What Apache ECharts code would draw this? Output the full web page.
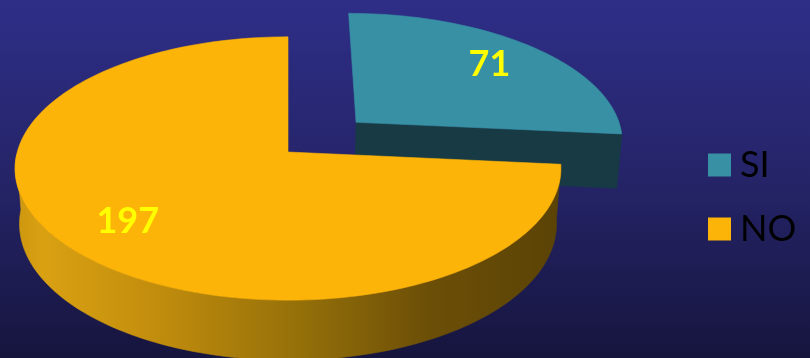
<!DOCTYPE html>
<html>
<head>
<meta charset="utf-8">
<title>SI / NO</title>
<script src="https://cdn.jsdelivr.net/npm/echarts@6/dist/echarts.min.js"></script>
<style>
  html, body { margin: 0; padding: 0; }
  #chart { width: 810px; height: 358px; }
</style>
</head>
<body>
<div id="chart"></div>
<script>
// Answers and counts
const categories = ['SI', 'NO'];
const values = [71, 197];

// Slice appearance
const topColors = ['#3890a4', '#fdb408'];
const explodeBy = { SI: 0.35 };

// Tilted-disc camera: centre on screen, focal length, distance, pitch, disc thickness
const VIEW = {
  cx: 288, cy: 152, f: 1895, D: 7.0,
  alpha: 28.6 * Math.PI / 180, thick: 0.235, labelR: 0.75
};

const total = values.reduce((a, b) => a + b, 0);
const starts = values.map((v, i) => values.slice(0, i).reduce((a, b) => a + b, 0));

const sa = Math.sin(VIEW.alpha), ca = Math.cos(VIEW.alpha);
const viewDir = [0, sa, ca]; // (X, H, Z), pointing toward the viewer

// Perspective projection of a disc point (X right, Z toward viewer, H up)
function project(X, Z, H) {
  const yc = H * ca - Z * sa;
  const zc = VIEW.D - H * sa - Z * ca;
  return [VIEW.cx + VIEW.f * X / zc, VIEW.cy - VIEW.f * yc / zc];
}
// angle measured clockwise from the back of the disc
function dir(t) { return [Math.sin(t), -Math.cos(t)]; }
function facing(n) {
  return n[0] * viewDir[0] + n[1] * viewDir[1] + n[2] * viewDir[2] > 1e-6;
}

const sideGradient = new echarts.graphic.LinearGradient(15, 0, 560, 0, [
  { offset: 0, color: '#cc9610' },
  { offset: 0.05, color: '#d9a112' },
  { offset: 0.25, color: '#c38e0d' },
  { offset: 0.52, color: '#957009' },
  { offset: 0.76, color: '#6c4f07' },
  { offset: 1, color: '#5b4306' }
], true);
const wallColors = ['#173a44', sideGradient];

function renderSlice(idx) {
  return function (params, api) {
    const value = api.value(0), start = api.value(1), sum = api.value(2);
    const t1 = start / sum * Math.PI * 2;
    const t2 = (start + value) / sum * Math.PI * 2;
    const tm = (t1 + t2) / 2;
    const ex = explodeBy[categories[idx]] || 0;
    const ox = dir(tm)[0] * ex, oz = dir(tm)[1] * ex;
    const T = VIEW.thick;
    const pt = (t, r, H) => { const d = dir(t); return project(ox + d[0] * r, oz + d[1] * r, H); };

    const children = [];
    const wallFill = wallColors[idx];

    // radial walls
    [[t1, -1], [t2, 1]].forEach(([t, s]) => {
      if (facing([s * Math.cos(t), 0, s * Math.sin(t)])) {
        children.push({
          type: 'polygon',
          shape: { points: [pt(t, 0, 0), pt(t, 1, 0), pt(t, 1, -T), pt(t, 0, -T)] },
          style: { fill: wallFill, stroke: wallFill, lineWidth: 0.6 }
        });
      }
    });

    // outer curved wall, front-facing runs only
    const steps = Math.max(8, Math.ceil((t2 - t1) / (Math.PI * 2) * 240));
    let run = [];
    const flush = () => {
      if (run.length > 1) {
        const topArc = run.map(t => pt(t, 1, 0));
        const botArc = run.map(t => pt(t, 1, -T)).reverse();
        children.push({
          type: 'polygon',
          shape: { points: topArc.concat(botArc) },
          style: { fill: wallFill, stroke: wallFill, lineWidth: 0.6 }
        });
      }
      run = [];
    };
    for (let k = 0; k <= steps; k++) {
      const t = t1 + (t2 - t1) * k / steps;
      const d = dir(t);
      if (facing([d[0], 0, d[1]]) || Math.abs(Math.cos(t)) < 1e-9) run.push(t); else flush();
    }
    flush();

    // top face
    const topPts = [pt(0, 0, 0)];
    for (let k = 0; k <= steps; k++) topPts.push(pt(t1 + (t2 - t1) * k / steps, 1, 0));
    children.push({
      type: 'polygon',
      shape: { points: topPts },
      style: { fill: topColors[idx], stroke: topColors[idx], lineWidth: 0.6 }
    });

    // value label on the top face
    const lp = pt(tm, VIEW.labelR, 0);
    children.push({
      type: 'text',
      x: lp[0], y: lp[1],
      style: {
        text: String(value),
        fill: '#ffff00',
        font: 'bold 36px Lato',
        align: 'center',
        verticalAlign: 'middle'
      }
    });

    return { type: 'group', children };
  };
}

const legendText = { color: '#000000', fontSize: 36, fontFamily: 'Lato', lineHeight: 40, padding: [0, 0, 0, 4] };

const chart = echarts.init(document.getElementById('chart'), null, { renderer: 'canvas' });
chart.setOption({
  animation: false,
  backgroundColor: {
    type: 'linear', x: 0, y: 0, x2: 0, y2: 1,
    colorStops: [
      { offset: 0, color: '#2e2e88' },
      { offset: 0.5, color: '#252468' },
      { offset: 1, color: '#16153e' }
    ]
  },
  legend: {
    orient: 'vertical',
    left: 708, top: 145,
    padding: 0,
    itemWidth: 23, itemHeight: 23, itemGap: 24,
    icon: 'rect',
    selectedMode: false,
    textStyle: legendText,
    data: categories.map((c, i) => ({
      name: c,
      itemStyle: { color: topColors[i] },
      textStyle: legendText
    }))
  },
  series: categories.map((c, i) => ({
    type: 'custom',
    name: c,
    coordinateSystem: 'none',
    silent: true,
    itemStyle: { color: topColors[i] },
    renderItem: renderSlice(i),
    data: [[values[i], starts[i], total]]
  }))
});
</script>
</body>
</html>
